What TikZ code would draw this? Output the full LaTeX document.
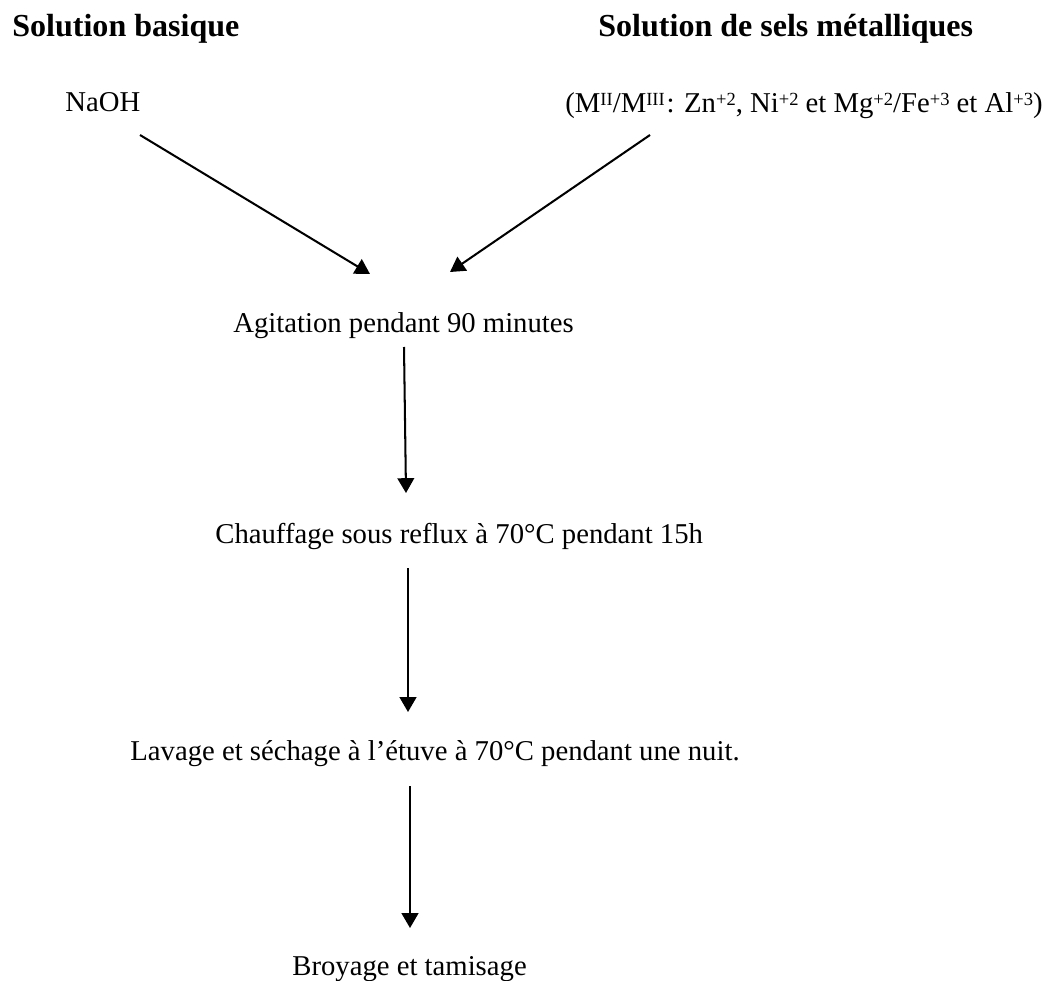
\documentclass[tikz,border=0pt]{standalone}
\usepackage{fontspec}
\setmainfont{Liberation Serif}
\usetikzlibrary{arrows.meta}
% Small raised charge, as in the reference.
\newcommand\expo[1]{\raisebox{0.6ex}{\fontsize{10}{10}\selectfont #1}}
\begin{document}
\begin{tikzpicture}[x=0.54pt, y=-0.54pt, font=\fontsize{15.5}{18}\selectfont,
  step arrow/.style={-{Triangle[length=8pt, width=9pt]}, line width=1.1pt},
  label text/.style={inner sep=0pt, anchor=base west},
  heading/.style={label text, font=\fontsize{17.3}{20}\selectfont\bfseries}]
  % Fix the page to the size of the reference.
  \useasboundingbox (0, 0) rectangle (1055, 981);
  % Headings of the two solutions.
  \node[heading] (basique) at (12, 37) {Solution basique};
  \node[heading] (sels) at (598, 37) {Solution de sels métalliques};
  \node[label text] (naoh) at (65, 112) {NaOH};
  \node[label text] (metaux) at (565, 113)
    {(M\expo{II}/M\expo{III}\kern1pt: Zn\expo{+2}, Ni\expo{+2} et Mg\expo{+2}/Fe\expo{+3} et Al\expo{+3})};
  % Steps of the synthesis.
  \node[label text] (agitation) at (233, 333) {Agitation pendant 90 minutes};
  \node[label text] (chauffage) at (215, 543) {Chauffage sous reflux à 70°C pendant 15h};
  \node[label text] (lavage) at (130, 760) {Lavage et séchage à l’étuve à 70°C pendant une nuit.};
  \node[label text] (broyage) at (292, 975) {Broyage et tamisage};
  % Free ends of the arrows.
  \coordinate (naoh out) at (140, 135);
  \coordinate (metaux out) at (650, 135);
  \coordinate (agitation in a) at (370, 274);
  \coordinate (agitation in b) at (450, 272);
  \coordinate (agitation out) at (404, 347);
  \coordinate (chauffage in) at (406, 493);
  \coordinate (chauffage out) at (408, 568);
  \coordinate (lavage in) at (408, 712);
  \coordinate (lavage out) at (410, 786);
  \coordinate (broyage in) at (410, 928);
  \draw[step arrow] (naoh out) -- (agitation in a);
  \draw[step arrow] (metaux out) -- (agitation in b);
  \draw[step arrow] (agitation out) -- (chauffage in);
  \draw[step arrow] (chauffage out) -- (lavage in);
  \draw[step arrow] (lavage out) -- (broyage in);
\end{tikzpicture}
\end{document}
